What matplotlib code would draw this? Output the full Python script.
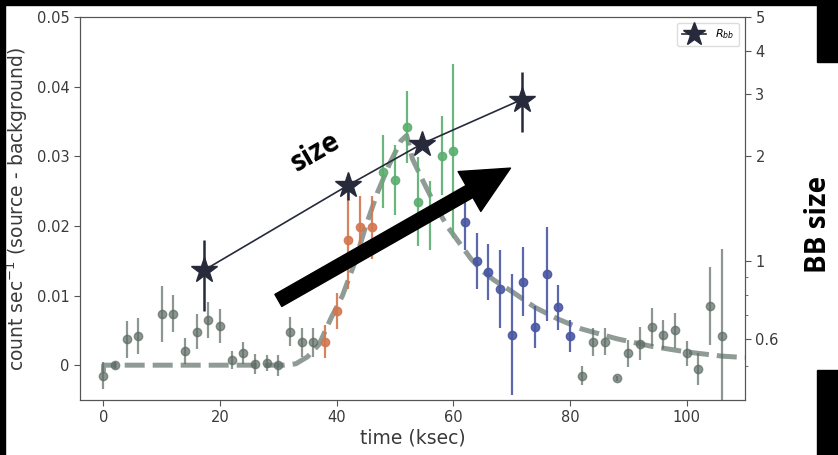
import matplotlib
matplotlib.use("Agg")
import matplotlib.pyplot as plt
from matplotlib.patches import Rectangle
from matplotlib.ticker import NullFormatter

# Light curve, quiescent part before the flare
t_pre = [0, 2, 4, 6, 10, 12, 14, 16, 18, 20, 22, 24, 26, 28, 30, 32, 34, 36]
rate_pre = [-0.0015, 0.0000, 0.0037, 0.0042, 0.0074, 0.0074, 0.0020, 0.0048, 0.0065,
            0.0056, 0.0007, 0.0017, 0.0002, 0.0003, 0.0000, 0.0048, 0.0033, 0.0033]
err_pre = [0.0019, 0.0005, 0.0026, 0.0026, 0.0040, 0.0027, 0.0019, 0.0025, 0.0026,
           0.0024, 0.0013, 0.0016, 0.0014, 0.0011, 0.0015, 0.0021, 0.0021, 0.0021]

# Rise
t_rise = [38, 40, 42, 44, 46]
rate_rise = [0.0034, 0.0078, 0.0180, 0.0198, 0.0198]
err_rise = [0.0023, 0.0026, 0.0070, 0.0045, 0.0045]

# Peak
t_peak = [48, 50, 52, 54, 56, 58, 60]
rate_peak = [0.0278, 0.0266, 0.0342, 0.0235, 0.0215, 0.0301, 0.0308]
err_peak = [0.0052, 0.0050, 0.0052, 0.0064, 0.0050, 0.0057, 0.0125]

# Decay
t_decay = [62, 64, 66, 68, 70, 72, 74, 76, 78, 80]
rate_decay = [0.0206, 0.0150, 0.0134, 0.0109, 0.0044, 0.0120, 0.0055, 0.0131, 0.0083, 0.0042]
err_decay = [0.0041, 0.0040, 0.0040, 0.0056, 0.0087, 0.0050, 0.0030, 0.0068, 0.0032, 0.0023]

# After the flare
t_post = [82, 84, 86, 88, 90, 92, 94, 96, 98, 100, 102, 104, 106]
rate_post = [-0.0015, 0.0033, 0.0034, -0.0019, 0.0017, 0.0031, 0.0055, 0.0044, 0.0050,
             0.0017, -0.0006, 0.0085, 0.0042]
err_post = [0.0014, 0.0020, 0.0020, 0.0004, 0.0019, 0.0024, 0.0027, 0.0021, 0.0025,
            0.0018, 0.0023, 0.0056, 0.0125]

# Flare model curve
t_model = [0, 0.05, 31, 33, 35, 37, 39, 41, 43, 45, 47, 49, 51, 52, 53, 55, 57, 59, 61,
           63, 65, 67, 70, 74, 78, 82, 88, 94, 100, 106, 110]
rate_model = [-0.001, 0.0, 0.0, 0.0002, 0.0012, 0.0030, 0.0067, 0.0100, 0.0145, 0.0200,
              0.0248, 0.0288, 0.0322, 0.0330, 0.0296, 0.0261, 0.0228, 0.0199, 0.0176,
              0.0153, 0.0135, 0.0122, 0.0106, 0.0083, 0.0066, 0.0052, 0.0038, 0.0027,
              0.0019, 0.0013, 0.0011]

# Blackbody radius
t_bb = [17.2, 42.0, 54.7, 71.7]
r_bb = [0.94, 1.65, 2.17, 2.90]
r_bb_lo = [0.22, 0.15, 0.05, 0.56]
r_bb_hi = [0.21, 0.13, 0.05, 0.59]

text_c = "#3a3a3a"
spine_c = "#555555"

fig = plt.figure(figsize=(8.38, 4.55), dpi=100)
ax = fig.add_axes([0.0955, 0.1209, 0.7935, 0.8417])
ax2 = ax.twinx()

ax.plot(t_model, rate_model, color="#7d8a84", lw=3.6, dashes=(4, 1.6), alpha=0.85, zorder=1)

kw = dict(fmt="o", ms=6, elinewidth=1.6, capsize=0, zorder=2)
ax.errorbar(t_pre, rate_pre, yerr=err_pre, color="#5d6b64", alpha=0.7, **kw)
ax.errorbar(t_rise, rate_rise, yerr=err_rise, color="#d2774f", alpha=0.9, **kw)
ax.errorbar(t_peak, rate_peak, yerr=err_peak, color="#5bae70", alpha=0.9, **kw)
ax.errorbar(t_decay, rate_decay, yerr=err_decay, color="#4a57a3", alpha=0.9, **kw)
ax.errorbar(t_post, rate_post, yerr=err_post, color="#5d6b64", alpha=0.7, **kw)

ax.set_xlim(-4, 110)
ax.set_ylim(-0.005, 0.05)
ax.set_xticks([0, 20, 40, 60, 80, 100])
ax.set_yticks([0, 0.01, 0.02, 0.03, 0.04, 0.05])
ax.set_yticklabels(["0", "0.01", "0.02", "0.03", "0.04", "0.05"])
ax.set_xlabel("time (ksec)", fontsize=13.5, color=text_c, labelpad=2)
ax.set_ylabel("count sec$^{-1}$ (source - background)", fontsize=13.5, color=text_c, labelpad=5)

ax2.errorbar(t_bb, r_bb, yerr=[r_bb_lo, r_bb_hi], fmt="*-", color="#262a3a", ms=19,
             lw=1.2, elinewidth=1.8, capsize=0, label="$R_{bb}$", zorder=5)
ax2.set_yscale("log")
ax2.set_ylim(0.4, 5)
ax2.set_yticks([0.6, 1, 2, 3, 4, 5])
ax2.set_yticklabels(["0.6", "1", "2", "3", "4", "5"])
ax2.set_yticks([0.5, 0.7, 0.8, 0.9], minor=True)
ax2.yaxis.set_minor_formatter(NullFormatter())
ax2.legend(loc="upper right", fontsize=8, markerscale=0.9, handlelength=2.2,
           borderpad=0.45, framealpha=1, edgecolor="#dddddd")

for a in (ax, ax2):
    for s in a.spines.values():
        s.set_color(spine_c)
    a.tick_params(which="both", colors=spine_c, labelcolor=text_c, labelsize=10.5, length=4)
    a.tick_params(which="minor", length=2.5)

# Annotations drawn over the chart
ax2.annotate("", xy=(69.8, 0.0283), xytext=(30.0, 0.0093),
             xycoords=ax.transData, textcoords=ax.transData,
             arrowprops=dict(arrowstyle="simple,head_length=1.7,head_width=1.65,tail_width=0.5",
                             mutation_scale=20, color="black", shrinkA=0, shrinkB=0),
             zorder=10)
fig.text(316 / 838, 1 - 152 / 455, "size", rotation=30, fontsize=20, fontweight="bold",
         family="Open Sans", ha="center", va="center", color="black")
fig.text(818 / 838, 1 - 224 / 455, "BB size", rotation=90, fontsize=20, fontweight="bold",
         family="Open Sans", ha="center", va="center", color="black")

# Black screenshot borders
for x0, y0, w, h in [(0, 450, 838, 5), (0, 0, 5, 455), (817, 393, 21, 62), (817, 0, 21, 85)]:
    fig.add_artist(Rectangle((x0 / 838, y0 / 455), w / 838, h / 455,
                             transform=fig.transFigure, color="black", zorder=20))

fig.savefig("out.png", dpi=100)
